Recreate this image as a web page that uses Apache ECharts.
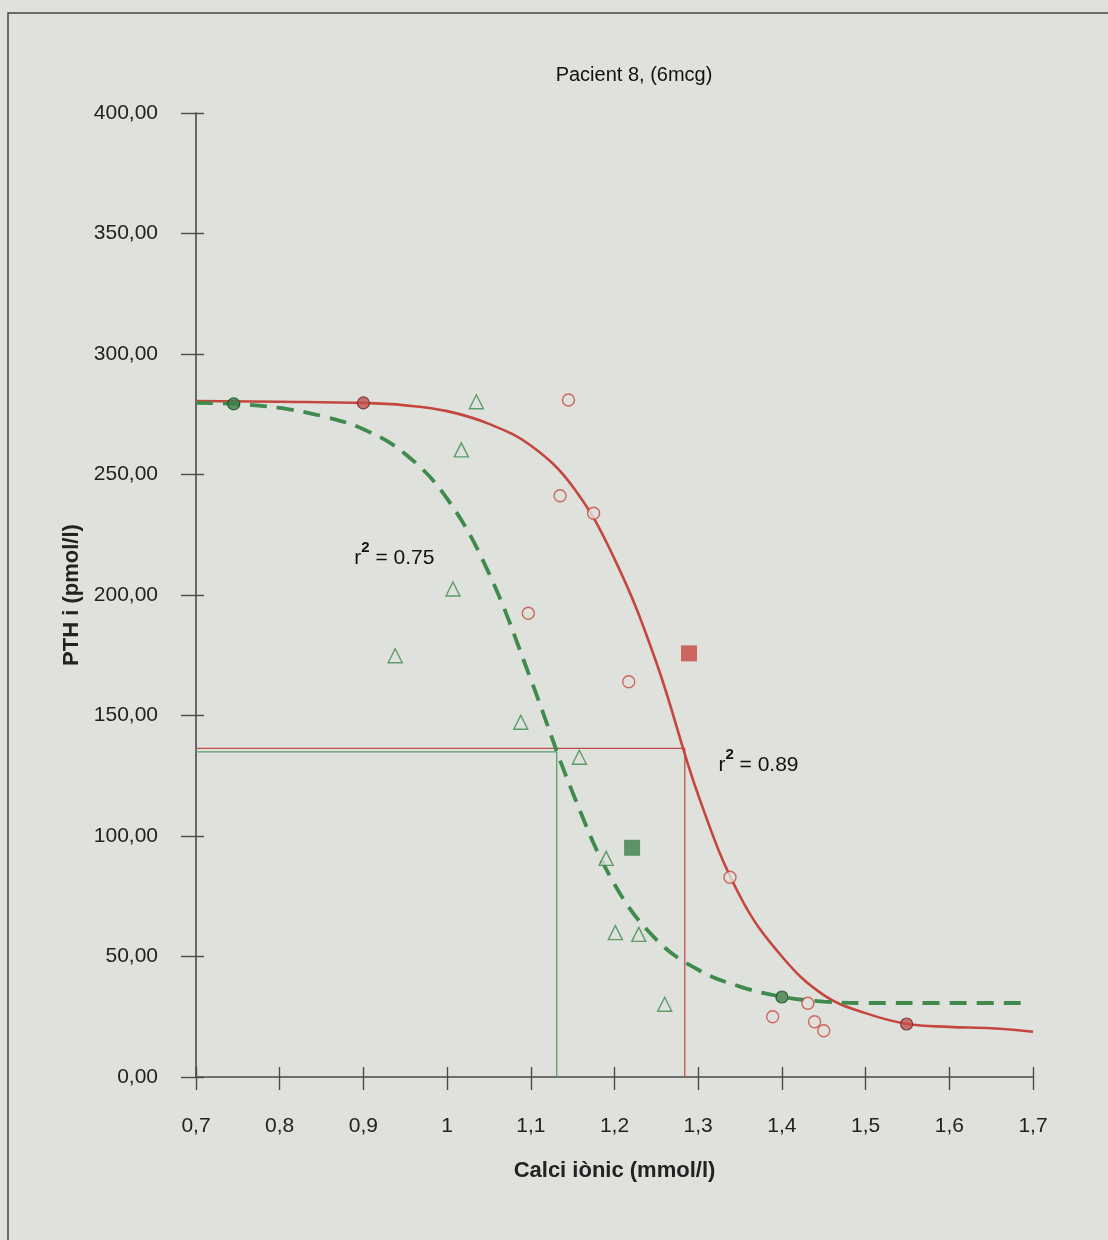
<!DOCTYPE html>
<html>
<head>
<meta charset="utf-8">
<script src="https://cdn.jsdelivr.net/npm/echarts@6/dist/echarts.min.js"></script>
<style>
html,body{margin:0;padding:0;background:#dfe2dc;}
#c{width:1108px;height:1240px;}
</style>
</head>
<body>
<div id="c"></div>
<script>
// ---- data ----
const xTicks = [0.7, 0.8, 0.9, 1.0, 1.1, 1.2, 1.3, 1.4, 1.5, 1.6, 1.7];
const yTicks = [0, 50, 100, 150, 200, 250, 300, 350, 400];

// fitted curve for 6 mcg (red, solid)
const redCurve = [
  [0.70, 280.5], [0.80, 280.2], [0.90, 279.7], [0.95, 278.7], [1.00, 276.3],
  [1.05, 271.0], [1.10, 262.0], [1.15, 245.0], [1.20, 215.0], [1.25, 172.0],
  [1.30, 117.0], [1.35, 75.0], [1.40, 50.0], [1.45, 34.0], [1.50, 26.5],
  [1.55, 22.0], [1.60, 20.8], [1.65, 20.2], [1.70, 18.8]
];
// fitted curve (green, dashed)
const greenCurve = [
  [0.70, 279.7], [0.75, 279.2], [0.80, 277.6], [0.85, 274.3], [0.90, 268.8],
  [0.95, 258.5], [1.00, 240.0], [1.05, 209.0], [1.10, 165.0], [1.15, 118.0],
  [1.20, 80.0], [1.25, 57.0], [1.30, 44.5], [1.35, 37.5], [1.40, 33.3],
  [1.45, 31.3], [1.50, 30.7], [1.60, 30.7], [1.686, 30.7]
];
// observed points
const redCircles = [
  [1.145, 280.9], [1.135, 241.2], [1.175, 233.9], [1.097, 192.4], [1.217, 164.0],
  [1.338, 82.9], [1.389, 25.0], [1.431, 30.6], [1.439, 22.9], [1.450, 19.2]
];
const greenTriangles = [
  [1.035, 280.2], [1.017, 260.2], [1.007, 202.5], [0.938, 174.8], [1.088, 147.2],
  [1.158, 132.7], [1.190, 90.7], [1.201, 59.9], [1.229, 59.2], [1.260, 30.2]
];
const redFilled = [[0.900, 279.7], [1.549, 22.0]];
const greenFilled = [[0.745, 279.3], [1.400, 33.2]];
const redSquare = [[1.289, 175.8]];
const greenSquare = [[1.221, 95.1]];
// set-point reference lines
const redRef = [[0.7, 136.4], [1.284, 136.4], [1.284, 0]];
const greenRef = [[0.7, 134.9], [1.131, 134.9], [1.131, 0]];
// annotations
const r2Labels = [
  {value: '0.75', at: [0.937, 217.4]},
  {value: '0.89', at: [1.372, 131.5]}
];
const titleText = 'Pacient 8, (6mcg)';
const xName = 'Calci iònic (mmol/l)';
const yName = 'PTH i (pmol/l)';

// ---- styles ----
const FONT = "'Liberation Sans', Arial, sans-serif";
const RED = '#c4463f';
const GREEN = '#3f8a4c';
const BG = '#dfe2dc';
const AX = '#4a4a4a';

const chart = echarts.init(document.getElementById('c'), null, {renderer: 'canvas'});

const xBase = {type: 'value', min: 0.7, max: 1.7, interval: 0.1, splitLine: {show: false}, position: 'bottom'};
const yBase = {type: 'value', min: 0, max: 400, interval: 50, splitLine: {show: false}, position: 'left'};

const option = {
  backgroundColor: BG,
  animation: false,
  grid: {left: 196, right: 75, top: 113, bottom: 163, containLabel: false},
  xAxis: [
    Object.assign({}, xBase, {
      name: xName, nameLocation: 'middle', nameGap: 83,
      nameTextStyle: {fontFamily: FONT, fontSize: 22, fontWeight: 'bold', color: '#222'},
      axisLine: {show: true, onZero: false, lineStyle: {color: AX, width: 1.6}},
      axisTick: {show: true, inside: false, length: 13, lineStyle: {color: AX, width: 1.4}},
      axisLabel: {margin: 39, fontFamily: FONT, fontSize: 21, color: '#222',
        formatter: v => String(+v.toFixed(1)).replace('.', ',')}
    }),
    Object.assign({}, xBase, {
      axisLine: {show: false, onZero: false}, axisLabel: {show: false},
      axisTick: {show: true, inside: true, length: 10, lineStyle: {color: AX, width: 1.4}}
    })
  ],
  yAxis: [
    Object.assign({}, yBase, {
      name: yName, nameLocation: 'middle', nameGap: 113, nameRotate: 90,
      nameTextStyle: {fontFamily: FONT, fontSize: 22, fontWeight: 'bold', color: '#222'},
      axisLine: {show: true, onZero: false, lineStyle: {color: AX, width: 1.6}},
      axisTick: {show: true, inside: false, length: 15, lineStyle: {color: AX, width: 1.4}},
      axisLabel: {margin: 38, fontFamily: FONT, fontSize: 21, color: '#222',
        formatter: v => v.toFixed(2).replace('.', ',')}
    }),
    Object.assign({}, yBase, {
      axisLine: {show: false, onZero: false}, axisLabel: {show: false},
      axisTick: {show: true, inside: true, length: 8, lineStyle: {color: AX, width: 1.4}}
    })
  ],
  series: [
    {type: 'line', data: greenRef, showSymbol: false, silent: true, z: 2,
      lineStyle: {color: '#5f9a6b', width: 1.3}},
    {type: 'line', data: redRef, showSymbol: false, silent: true, z: 2,
      lineStyle: {color: '#c0504d', width: 1.3}},
    {type: 'line', data: redCurve, smooth: 0.4, showSymbol: false, z: 3,
      lineStyle: {color: RED, width: 2.6}},
    {type: 'line', data: greenCurve, smooth: 0.4, showSymbol: false, z: 4,
      lineStyle: {color: GREEN, width: 3.8, type: [17, 10]}},
    {type: 'scatter', data: redCircles, symbol: 'circle', symbolSize: 12, z: 5,
      itemStyle: {color: BG, borderColor: '#c8473f', borderWidth: 1.4}},
    {type: 'scatter', data: greenTriangles, symbol: 'triangle', symbolSize: 14, z: 5,
      itemStyle: {color: BG, borderColor: '#3f8a4c', borderWidth: 1.4}},
    {type: 'scatter', data: redFilled, symbol: 'circle', symbolSize: 12, z: 6,
      itemStyle: {color: '#c0504d', borderColor: '#6a2a25', borderWidth: 1.2}},
    {type: 'scatter', data: greenFilled, symbol: 'circle', symbolSize: 12, z: 6,
      itemStyle: {color: '#3c7f49', borderColor: '#1f4a27', borderWidth: 1.2}},
    {type: 'scatter', data: redSquare, symbol: 'rect', symbolSize: 16, z: 6,
      itemStyle: {color: '#c8473f'}},
    {type: 'scatter', data: greenSquare, symbol: 'rect', symbolSize: 16, z: 6,
      itemStyle: {color: '#3c7f49'}}
  ]
};
chart.setOption(option);

const graphics = [
  {type: 'rect', shape: {x: 8, y: 13, width: 1200, height: 1300}, silent: true,
    style: {fill: 'none', stroke: '#444', lineWidth: 1.5}, z: 0},
  {type: 'text', x: 634, y: 75, silent: true,
    style: {text: titleText, font: '20px ' + FONT, fill: '#111', textAlign: 'center', textVerticalAlign: 'middle'}}
];
r2Labels.forEach(l => {
  const p = chart.convertToPixel({xAxisIndex: 0, yAxisIndex: 0}, l.at);
  graphics.push({type: 'text', x: p[0], y: p[1], silent: true,
    style: {
      text: '{r|r}{s|2}{r| = ' + l.value + '}',
      textAlign: 'center', textVerticalAlign: 'middle',
      rich: {
        r: {fontFamily: FONT, fontSize: 21, fill: '#111', color: '#111', height: 24, verticalAlign: 'bottom'},
        s: {fontFamily: FONT, fontSize: 15, fontWeight: 'bold', fill: '#111', color: '#111', height: 24, verticalAlign: 'top', padding: [0, 0, 10, 0]}
      }
    }});
});
chart.setOption({graphic: graphics});
</script>
</body>
</html>
